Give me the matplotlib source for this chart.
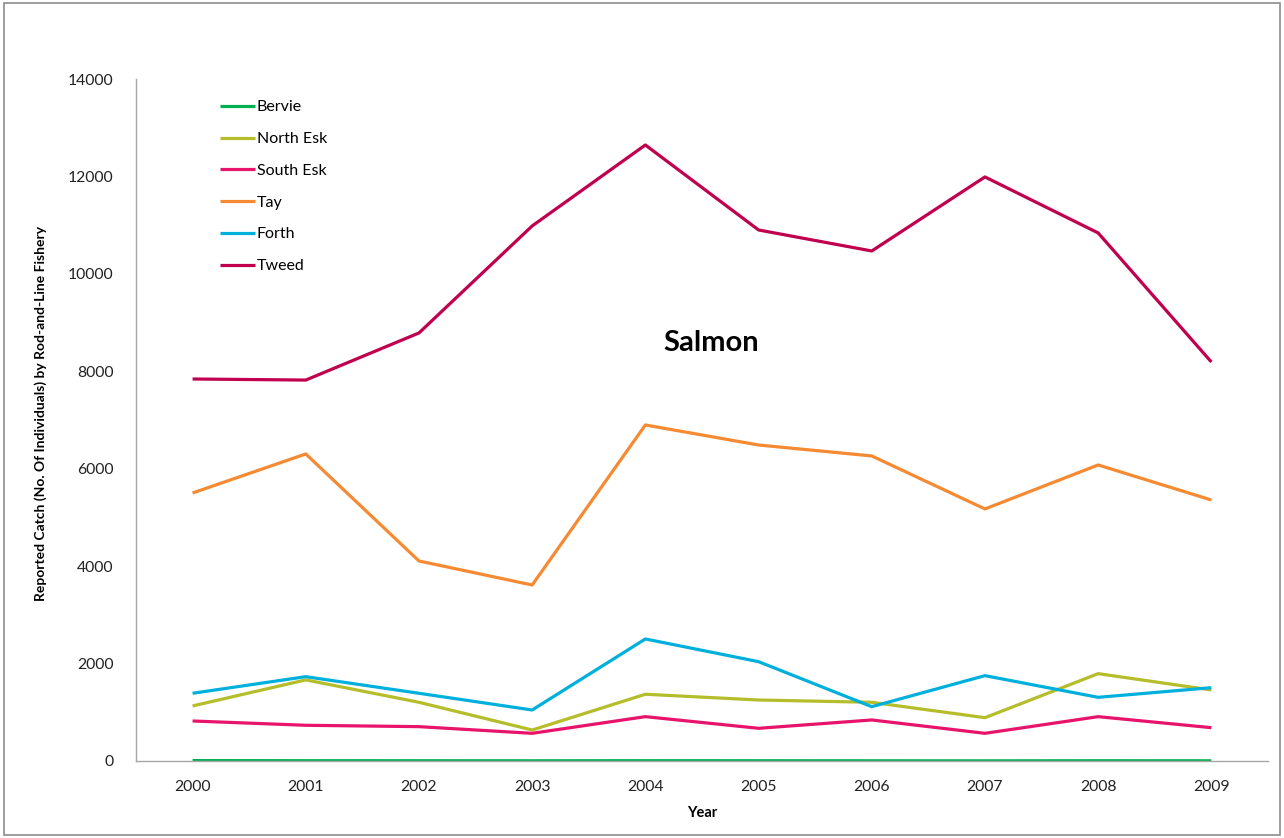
import matplotlib
matplotlib.use('Agg')
import matplotlib.pyplot as plt
from matplotlib.patches import Rectangle

plt.rcParams['font.family'] = ['Lato', 'DejaVu Sans']

# Data
years = ['2000', '2001', '2002', '2003', '2004', '2005', '2006', '2007', '2008', '2009']
bervie = [8, 6, 5, 4, 6, 5, 4, 3, 5, 4]
north_esk = [1130, 1665, 1205, 636, 1370, 1252, 1205, 889, 1793, 1458]
south_esk = [821, 733, 705, 568, 910, 671, 842, 568, 910, 684]
tay = [5502, 6303, 4106, 3613, 6898, 6487, 6262, 5174, 6077, 5358]
forth = [1390, 1731, 1390, 1047, 2505, 2039, 1115, 1752, 1307, 1505]
tweed = [7842, 7820, 8787, 10984, 12646, 10901, 10470, 11990, 10840, 8191]

series = [
    ('Bervie', bervie, '#00b050'),
    ('North Esk', north_esk, '#b5bd2a'),
    ('South Esk', south_esk, '#e8136b'),
    ('Tay', tay, '#f58a32'),
    ('Forth', forth, '#00b0dc'),
    ('Tweed', tweed, '#c0004e'),
]

fig = plt.figure(figsize=(12.84, 8.38), dpi=100)
ax = fig.add_axes([0.1059, 0.0919, 0.8816, 0.8138])

x = list(range(len(years)))
for name, vals, col in series:
    ax.plot(x, vals, color=col, linewidth=2.3, label=name, solid_capstyle='butt')

ax.set_xlim(-0.5, len(years) - 0.5)
ax.set_ylim(0, 14000)
ax.set_xticks(x)
ax.set_xticklabels(years)
ax.set_yticks(range(0, 14001, 2000))
ax.tick_params(axis='both', length=0, labelsize=11.3, colors='#222222')
ax.tick_params(axis='x', pad=14)
ax.tick_params(axis='y', pad=16)

for s in ['top', 'right']:
    ax.spines[s].set_visible(False)
for s in ['left', 'bottom']:
    ax.spines[s].set_color('#a6a6a6')
    ax.spines[s].set_linewidth(1)

ax.set_xlabel('Year', fontsize=10.5, fontweight='bold', labelpad=8)
ax.set_ylabel('Reported Catch (No. Of Individuals) by Rod-and-Line Fishery',
              fontsize=10, fontweight='bold')
ax.yaxis.set_label_coords(-0.079, 0.51)

ax.text(0.508, 0.613, 'Salmon', transform=ax.transAxes, fontsize=21,
        fontweight='bold', ha='center', va='center')

ax.legend(loc='upper left', bbox_to_anchor=(0.074, 0.969), frameon=False,
          fontsize=11.5, handlelength=2.2, handletextpad=0.12, labelspacing=1.1,
          borderaxespad=0, borderpad=0)

fig.patches.append(Rectangle((0.003, 0.004), 0.994, 0.992, transform=fig.transFigure,
                             fill=False, edgecolor='#8c8c8c', linewidth=1.2))

fig.savefig('out.png', dpi=100)
